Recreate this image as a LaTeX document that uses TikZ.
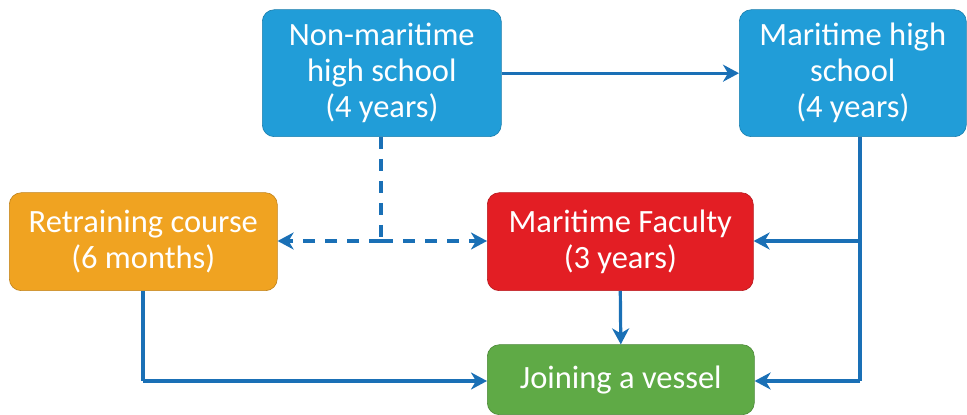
\documentclass[tikz,border=0pt]{standalone}
\usepackage{fontspec}
\setmainfont{Carlito}
\usetikzlibrary{arrows.meta}
\definecolor{cblue}{RGB}{33,157,216}
\definecolor{corange}{RGB}{240,163,33}
\definecolor{cred}{RGB}{227,30,36}
\definecolor{cgreen}{RGB}{95,170,70}
\definecolor{carrow}{RGB}{26,112,182}
\tikzset{
  box/.style={rounded corners=12pt, draw=#1!80!black, line width=0.6pt, fill=#1, text=white,
    font=\fontsize{32.5}{36}\selectfont, align=center, inner sep=0pt, anchor=south west},
  conn/.style={carrow, line width=3.2pt, -{Stealth[length=16pt,width=17pt,inset=5pt]}},
  dconn/.style={conn, dash pattern=on 12pt off 10pt},
}
\begin{document}
\begin{tikzpicture}[x=1pt,y=1pt]
\useasboundingbox (0,0) rectangle (967,415);
% boxes (y flipped: 415 - y)
\node[box=cblue, minimum width=239pt, minimum height=127pt] (nm) at (262,278) {Non-maritime\\high school\\(4 years)};
\node[box=cblue, minimum width=227pt, minimum height=127pt] (mh) at (739,278) {Maritime high\\school\\(4 years)};
\node[box=corange, minimum width=268pt, minimum height=98pt] (rc) at (9,124) {Retraining course\\(6 months)};
\node[box=cred, minimum width=266pt, minimum height=98pt] (mf) at (487,124) {Maritime Faculty\\(3 years)};
\node[box=cgreen, minimum width=267pt, minimum height=70pt] (jv) at (487,0) {Joining a vessel};
% coordinates
\coordinate (dj) at (381,174);
\coordinate (rj) at (860,174);
\coordinate (rb) at (860,34);
\coordinate (lb) at (143,34);
% connectors
\draw[conn] (nm.east) -- (mh.west);
\draw[carrow, line width=3.2pt, dash pattern=on 12pt off 10pt] (nm.south -| dj) -- (dj);
\draw[dconn] (dj) -- (rc.east |- dj);
\draw[dconn] (dj) -- (mf.west |- dj);
\draw[carrow, line width=3.2pt] (mh.south -| rj) -- (rb);
\draw[conn] (rj) -- (mf.east |- rj);
\draw[conn] (rb) -- (jv.east |- rb);
\draw[conn] (mf.south) -- (jv.north);
\draw[carrow, line width=3.2pt] (rc.south -| lb) -- (lb);
\draw[conn] (lb) -- (jv.west |- lb);
\end{tikzpicture}
\end{document}
